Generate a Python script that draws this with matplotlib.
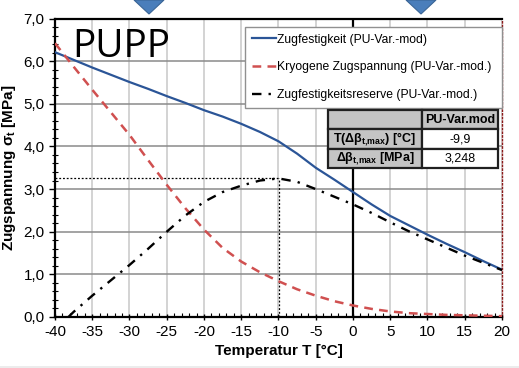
import numpy as np
import matplotlib
matplotlib.use("Agg")
import matplotlib.pyplot as plt
from matplotlib.ticker import MultipleLocator, FuncFormatter
from matplotlib.patches import Polygon, Rectangle

plt.rcParams['font.family'] = ['Liberation Sans', 'DejaVu Sans']
plt.rcParams['mathtext.fontset'] = 'custom'
plt.rcParams['mathtext.rm'] = 'Liberation Sans'
plt.rcParams['mathtext.it'] = 'Liberation Sans:italic'
plt.rcParams['mathtext.bf'] = 'Liberation Sans:bold'

# data
temp = [-40, -37.5, -35, -32.5, -30, -27.5, -25, -22.5, -20, -17.5, -15, -12.5,
        -10, -7.5, -5, -2.5, 0, 2.5, 5, 7.5, 10, 12.5, 15, 17.5, 20]
zugfestigkeit = [6.21, 6.03, 5.85, 5.68, 5.51, 5.35, 5.18, 5.02, 4.85, 4.70, 4.53, 4.34,
                 4.12, 3.83, 3.50, 3.22, 2.93, 2.64, 2.37, 2.15, 1.93, 1.72, 1.52, 1.31, 1.11]
kryogen = [6.42, 5.87, 5.33, 4.80, 4.27, 3.68, 3.10, 2.55, 2.05, 1.62, 1.30, 1.05,
           0.84, 0.65, 0.50, 0.37, 0.27, 0.19, 0.13, 0.09, 0.07, 0.05, 0.04, 0.03, 0.02]
temp_res = [-38.2, -37.5, -35, -32.5, -30, -27.5, -25, -22.5, -20, -17.5, -15, -12.5,
            -10, -7.5, -5, -2.5, 0, 2.5, 5, 7.5, 10, 12.5, 15, 17.5, 20]
reserve = [0.0, 0.12, 0.50, 0.86, 1.22, 1.60, 2.00, 2.38, 2.70, 2.93, 3.08, 3.20,
           3.25, 3.17, 3.00, 2.82, 2.64, 2.44, 2.22, 2.01, 1.82, 1.63, 1.44, 1.27, 1.10]

t_max = -9.9
dbeta_max = 3.248
table_rows = [["", "PU-Var.mod"],
              [r"T(Δβ$_{\mathbf{t{,}max}}$) [°C]", "-9,9"],
              [r"Δβ$_{\mathbf{t{,}max}}$ [MPa]", "3,248"]]

fig = plt.figure(figsize=(5.19, 3.68), dpi=100)
ax = fig.add_axes([55/519, 1-317/368, 447/519, 298.5/368])

ax.set_xlim(-40, 20)
ax.set_ylim(0, 7)

ax.xaxis.set_major_locator(MultipleLocator(5))
ax.xaxis.set_minor_locator(MultipleLocator(1))
ax.yaxis.set_major_locator(MultipleLocator(1))
ax.yaxis.set_minor_locator(MultipleLocator(0.2))
ax.yaxis.set_major_formatter(FuncFormatter(lambda v, p: f"{v:.1f}".replace(".", ",")))
ax.xaxis.set_major_formatter(FuncFormatter(lambda v, p: f"{v:.0f}"))

ax.grid(True, axis='y', which='major', color='#8a8a8a', lw=1.1)
ax.grid(True, axis='x', which='major', color='#c8c8c8', lw=1.1)
ax.set_axisbelow(True)

ax.tick_params(axis='both', which='major', labelsize=11, direction='out', length=4, width=1)
ax.tick_params(axis='x', which='minor', direction='in', length=3, width=0.8)
ax.tick_params(axis='y', which='minor', direction='inout', length=4, width=0.8)
ax.tick_params(axis='x', which='major', direction='inout', length=5)

for s in ['left', 'bottom', 'top']:
    ax.spines[s].set_linewidth(1.6)
    ax.spines[s].set_color('black')
ax.spines['right'].set_color('#8b1a1a')
ax.spines['right'].set_linewidth(1.0)
ax.spines['right'].set_linestyle(':')

ax.axvline(0, color='black', lw=1.6, zorder=2)

ax.plot([-40, t_max], [dbeta_max, dbeta_max], color='black', lw=0.9, ls=(0, (1.5, 1.5)), zorder=3)
ax.plot([t_max, t_max], [0, dbeta_max], color='black', lw=0.9, ls=(0, (1.5, 1.5)), zorder=3)

ax.plot(temp, zugfestigkeit, color='#2b5597', lw=1.6, label='Zugfestigkeit (PU-Var.-mod)', zorder=4)
ax.plot(temp, kryogen, color='#d05050', lw=1.8, ls=(0, (3.5, 2.5)),
        label='Kryogene Zugspannung (PU-Var.-mod.)', zorder=4)
ax.plot(temp_res, reserve, color='black', lw=1.7, ls=(0, (4, 3, 1, 3)),
        label='Zugfestigkeitsreserve (PU-Var.-mod.)', zorder=4)

ax.set_xlabel('Temperatur T [°C]', fontsize=11, fontweight='bold', labelpad=3)
ax.set_ylabel(r'Zugspannung σ$_\mathbf{t}$ [MPa]', fontsize=11, fontweight='bold', labelpad=4)

leg = ax.legend(loc='upper left', bbox_to_anchor=(0.425, 0.72, 0.575, 0.252), mode='expand',
                fontsize=8.7, handlelength=2.0, handletextpad=0.1, labelspacing=1.3,
                frameon=True, fancybox=False, borderaxespad=0, borderpad=0.55)
leg.get_frame().set_edgecolor('#909090')
leg.get_frame().set_linewidth(1.0)
leg.get_frame().set_alpha(1)
leg.set_zorder(6)

tab = ax.table(cellText=table_rows, colWidths=[94, 76],
               bbox=[(328-55)/447, (317-168)/298.5, 170/447, 58/298.5], cellLoc='center')
tab.auto_set_font_size(False)
tab.set_fontsize(8)
tab.set_zorder(7)
for (r, c), cell in tab.get_celld().items():
    cell.set_linewidth(1.6)
    cell.set_edgecolor('#202020')
    if r == 0 or c == 0:
        cell.set_facecolor('#c4c4c4')
        cell.get_text().set_fontweight('bold')
    else:
        cell.set_facecolor('white')
    cell.get_text().set_fontsize(9)

fig.text(72/519, 1-57/368, 'PUPP', fontsize=28, family='Open Sans', ha='left', va='baseline')

chev_col = '#4a7ebb'
for cx in [149, 421]:
    fig.patches.append(Polygon([((cx-15)/519, 1.0), ((cx+15)/519, 1.0), (cx/519, 1-14/368)],
                               closed=True, transform=fig.transFigure,
                               facecolor=chev_col, edgecolor='#3a6596', lw=0.8))
fig.patches.append(Rectangle((0, 0), 1, 2/368, transform=fig.transFigure,
                             facecolor='#ececec', edgecolor='none'))

fig.savefig('out.png', dpi=100)
